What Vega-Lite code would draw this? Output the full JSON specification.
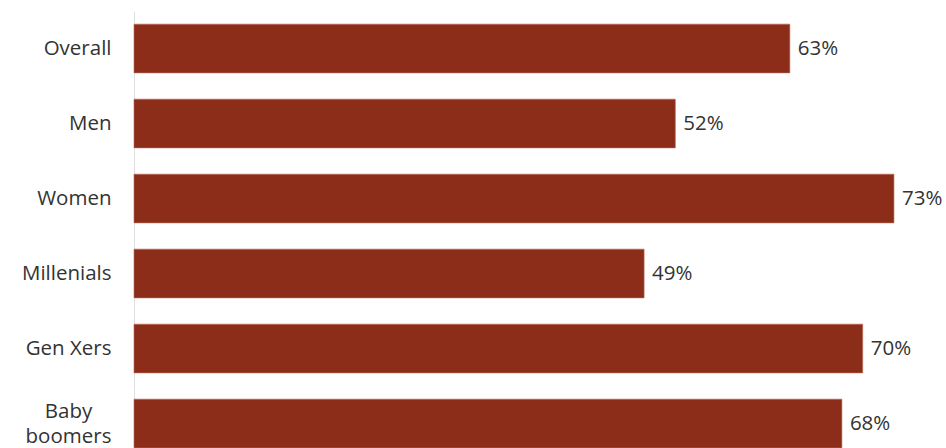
{
  "$schema": "https://vega.github.io/schema/vega-lite/v6.json",
  "autosize": {"type": "none"},
  "padding": {"left": 134, "top": 11, "right": 0, "bottom": 0},
  "width": 812,
  "height": 450,
  "background": "white",
  "data": {"values": [
    {"group": "Overall", "share": 0.63},
    {"group": "Men", "share": 0.52},
    {"group": "Women", "share": 0.73},
    {"group": "Millenials", "share": 0.49},
    {"group": "Gen Xers", "share": 0.70},
    {"group": "Baby boomers", "share": 0.68}
  ]},
  "encoding": {
    "y": {"field": "group", "type": "nominal", "sort": null,
      "scale": {"paddingInner": 0.35, "paddingOuter": 0.175},
      "axis": {"title": null, "ticks": false, "domainColor": "#e0e0e0", "domainWidth": 1,
        "labelFont": "Open Sans", "labelFontSize": 20.5, "labelColor": "#333333",
        "labelPadding": {"condition": {"test": "datum.value == 'Baby boomers'", "value": 66}, "value": 23},
        "labelAlign": {"condition": {"test": "datum.value == 'Baby boomers'", "value": "center"}, "value": "right"},
        "labelLineHeight": 25,
        "labelOffset": {"condition": {"test": "datum.value == 'Baby boomers'", "value": -12}, "value": 0},
        "labelExpr": "datum.value == 'Baby boomers' ? ['Baby', 'boomers'] : datum.value"}},
    "x": {"field": "share", "type": "quantitative", "scale": {"domain": [0, 0.78]}, "axis": null}
  },
  "layer": [
    {"mark": {"type": "bar", "color": "#8c2d1a", "stroke": "#b86a55", "strokeWidth": 0.6}},
    {"mark": {"type": "text", "align": "left", "baseline": "middle", "dx": 8, "font": "Open Sans", "fontSize": 20.5, "color": "#333333"},
     "encoding": {"text": {"field": "share", "type": "quantitative", "format": ".0%"}}}
  ],
  "config": {"view": {"stroke": null}}
}
